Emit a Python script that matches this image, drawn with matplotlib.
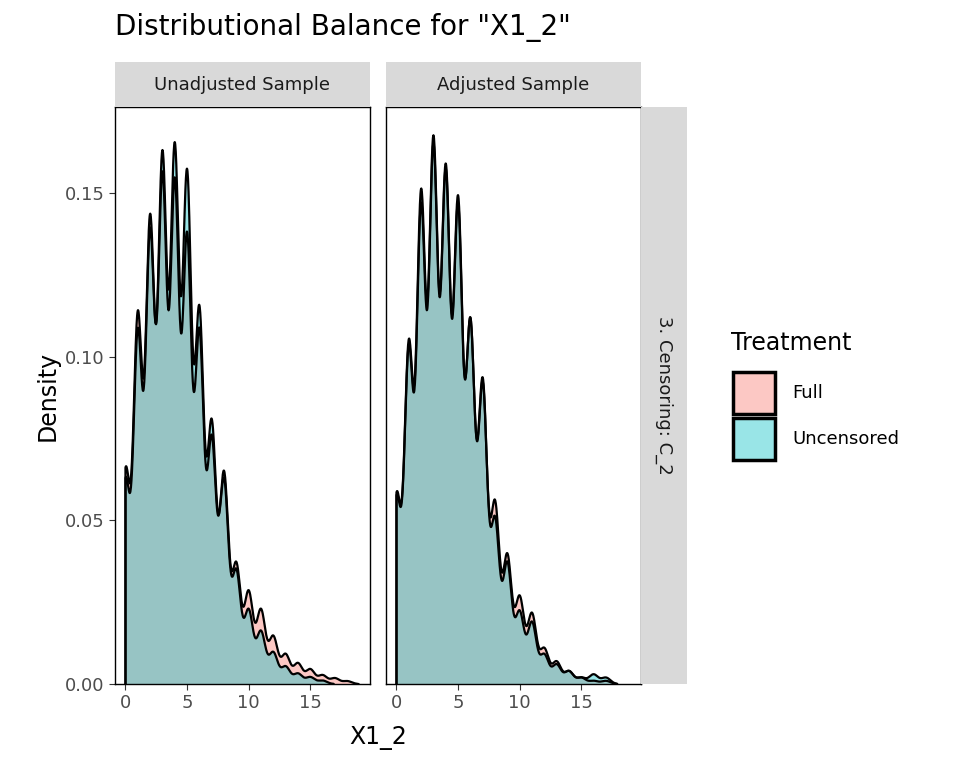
import numpy as np
import matplotlib
matplotlib.use("Agg")
import matplotlib.pyplot as plt
from matplotlib.patches import Rectangle

# peak heights read at integer values of X1_2
unadj_full = [0.072,0.124,0.156,0.170,0.168,0.150,0.118,0.082,0.071,0.040,0.031,0.025,0.016,0.010,0.007,0.005,0.003,0.002,0.001]
unadj_unc  = [0.058,0.100,0.128,0.150,0.152,0.145,0.106,0.074,0.058,0.032,0.021,0.015,0.009,0.005,0.003,0.002,0.001]
adj_full   = [0.058,0.104,0.148,0.166,0.158,0.148,0.112,0.093,0.056,0.040,0.027,0.022,0.011,0.007,0.004,0.002,0.001,0.001]
adj_unc    = [0.058,0.104,0.150,0.166,0.157,0.148,0.110,0.093,0.050,0.037,0.022,0.019,0.009,0.006,0.004,0.002,0.003,0.002]
panels = ["Unadjusted Sample", "Adjusted Sample"]
row_label = "3. Censoring: C_2"
groups = ["Full", "Uncensored"]
colors = ["#F8766D", "#00BFC4"]
SD = 0.36

def dens(peaks):
    w = np.array(peaks, float); w = w / w.sum()
    v = np.arange(len(w))
    x = np.linspace(0, len(w) - 1 + 0.9, 800)
    y = (w[None, :] * np.exp(-(x[:, None] - v[None, :])**2 / (2*SD**2))).sum(1) / (SD*np.sqrt(2*np.pi))
    return x, y

W, H = 960, 768
fig = plt.figure(figsize=(9.6, 7.68), dpi=100)
def px(l, t, r, b):
    return [l/W, 1-b/H, (r-l)/W, (b-t)/H]

data = [(unadj_full, unadj_unc), (adj_full, adj_unc)]
lefts = [(115, 370), (386, 641)]
for i, ((l, r), (f, u), name) in enumerate(zip(lefts, data, panels)):
    ax = fig.add_axes(px(l, 107, r, 684))
    for peaks, c in zip((f, u), colors):
        x, y = dens(peaks)
        ax.fill_between(x, 0, y, color=c, alpha=0.4, lw=0)
        ax.plot(np.r_[x[0], x, x[-1]], np.r_[0, y, 0], color="black", lw=1.6)
    ax.set_xlim(-0.85, 19.85); ax.set_ylim(0, 0.1763)
    ax.set_xticks([0, 5, 10, 15])
    ax.tick_params(labelsize=13, colors="#333333", labelcolor="#4D4D4D", length=4)
    for s in ax.spines.values():
        s.set_color("black"); s.set_linewidth(1)
    if i == 0:
        ax.set_yticks([0, 0.05, 0.10, 0.15])
        ax.set_yticklabels(["0.00", "0.05", "0.10", "0.15"])
        ax.set_ylabel("Density", fontsize=17)
    else:
        ax.set_yticks([0, 0.05, 0.10, 0.15]); ax.set_yticklabels([])
        ax.tick_params(axis="y", length=0)
    sax = fig.add_axes(px(l, 62, r, 107))
    sax.set_facecolor("#D9D9D9"); sax.set_xticks([]); sax.set_yticks([])
    for s in sax.spines.values(): s.set_visible(False)
    sax.text(0.5, 0.5, name, ha="center", va="center", fontsize=13, color="#1A1A1A", transform=sax.transAxes)

rax = fig.add_axes(px(641, 107, 687, 684))
rax.set_facecolor("#D9D9D9"); rax.set_xticks([]); rax.set_yticks([])
for s in rax.spines.values(): s.set_visible(False)
rax.text(0.5, 0.5, row_label, ha="center", va="center", rotation=-90, fontsize=13, color="#1A1A1A", transform=rax.transAxes)

fig.text(378/W, 1-738/H, "X1_2", ha="center", va="center", fontsize=17)
fig.text(115/W, 1-28/H, 'Distributional Balance for "X1_2"', ha="left", va="center", fontsize=20)

fig.text(731/W, 1-343/H, "Treatment", ha="left", va="center", fontsize=17)
for k, (g, c) in enumerate(zip(groups, colors)):
    top = 372 + k*46
    fig.patches.append(Rectangle((733/W, 1-(top+42)/H), 42/W, 42/H, transform=fig.transFigure,
                                 facecolor=c, alpha=0.4, edgecolor="none"))
    fig.patches.append(Rectangle((733/W, 1-(top+42)/H), 42/W, 42/H, transform=fig.transFigure,
                                 facecolor="none", edgecolor="black", lw=2.5))
    fig.text(792/W, 1-(top+21)/H, g, ha="left", va="center", fontsize=13)

fig.savefig("out.png", dpi=100)
